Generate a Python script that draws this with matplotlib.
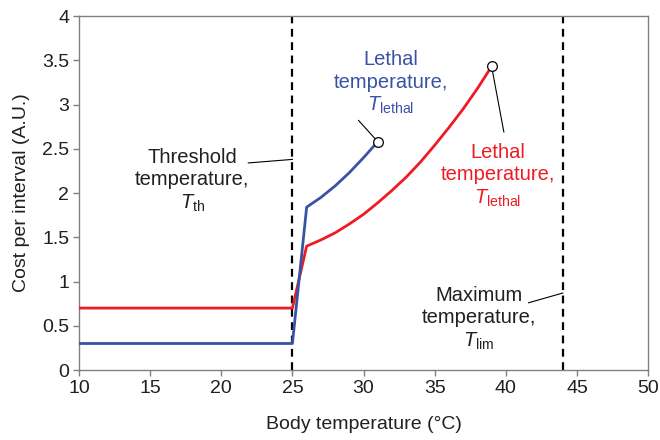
import matplotlib
matplotlib.use("Agg")
import matplotlib.pyplot as plt

plt.rcParams['font.family'] = ['Liberation Sans', 'DejaVu Sans']
plt.rcParams['mathtext.fontset'] = 'custom'
plt.rcParams['mathtext.rm'] = 'Liberation Sans'
plt.rcParams['mathtext.it'] = 'Liberation Sans:italic'

# Cost curves (body temperature in °C, cost in arbitrary units)
blue_temp = [10, 25, 26, 27, 28, 29, 30, 31]
blue_cost = [0.3, 0.3, 1.84, 1.95, 2.08, 2.23, 2.40, 2.58]
red_temp = [10, 25, 26, 27, 28, 29, 30, 31, 32, 33, 34, 35, 36, 37, 38, 39]
red_cost = [0.7, 0.7, 1.40, 1.47, 1.55, 1.65, 1.76, 1.89, 2.03, 2.18,
            2.35, 2.54, 2.74, 2.95, 3.18, 3.43]

threshold_temp = 25
max_temp = 44

x_ticks = [10, 15, 20, 25, 30, 35, 40, 45, 50]
y_ticks = [0, 0.5, 1, 1.5, 2, 2.5, 3, 3.5, 4]
y_tick_labels = ['0', '0.5', '1', '1.5', '2', '2.5', '3', '3.5', '4']

BLUE = '#3953a4'
RED = '#ed1c24'
TXT = '#231f20'
GRAY = '#808080'

fig = plt.figure(figsize=(6.6, 4.4), dpi=100)
ax = fig.add_axes([0.1197, 0.159, 0.8623, 0.8046])

ax.axvline(threshold_temp, color='black', lw=1.6, ls=(0, (3.5, 2.5)), zorder=1)
ax.axvline(max_temp, color='black', lw=1.6, ls=(0, (3.5, 2.5)), zorder=1)

ax.plot(red_temp, red_cost, color=RED, lw=2.0, solid_joinstyle='round', zorder=3)
ax.plot(blue_temp, blue_cost, color=BLUE, lw=2.0, solid_joinstyle='round', zorder=3)

# open circles at the lethal end points
ax.plot(blue_temp[-1], blue_cost[-1], 'o', ms=7, mfc='white', mec='black', mew=0.9, zorder=5)
ax.plot(red_temp[-1], red_cost[-1], 'o', ms=7, mfc='white', mec='black', mew=0.9, zorder=5)

ax.set_xlim(10, 50)
ax.set_ylim(0, 4)
ax.set_xticks(x_ticks)
ax.set_yticks(y_ticks)
ax.set_yticklabels(y_tick_labels)
ax.tick_params(direction='out', length=4, width=1, color=GRAY,
               labelsize=14, labelcolor=TXT, pad=3)
for s in ax.spines.values():
    s.set_color(GRAY)
    s.set_linewidth(1)

ax.set_xlabel('Body temperature (°C)', fontsize=14, color=TXT, labelpad=14)
ax.set_ylabel('Cost per interval (A.U.)', fontsize=14, color=TXT, labelpad=9)

fs = 14.5
ls = 1.22
ax.text(17.96, 2.14, 'Threshold\ntemperature,\n$\\mathit{T}_{\\mathrm{th}}$', ha='center', va='center',
        fontsize=fs, color=TXT, linespacing=ls)
ax.plot([21.9, 25.0], [2.34, 2.38], color='black', lw=0.8, zorder=4)

ax.text(31.9, 3.24, 'Lethal\ntemperature,\n$\\mathit{T}_{\\mathrm{lethal}}$', ha='center', va='center',
        fontsize=fs, color=BLUE, linespacing=ls)
ax.plot([29.65, blue_temp[-1]], [2.82, blue_cost[-1]], color='black', lw=0.8, zorder=4)

ax.text(39.44, 2.19, 'Lethal\ntemperature,\n$\\mathit{T}_{\\mathrm{lethal}}$', ha='center', va='center',
        fontsize=fs, color=RED, linespacing=ls)
ax.plot([red_temp[-1], 39.86], [red_cost[-1], 2.69], color='black', lw=0.8, zorder=4)

ax.text(38.1, 0.58, 'Maximum\ntemperature,\n$\\mathit{T}_{\\mathrm{lim}}$', ha='center', va='center',
        fontsize=fs, color=TXT, linespacing=ls)
ax.plot([41.6, max_temp], [0.76, 0.87], color='black', lw=0.8, zorder=4)

fig.savefig('out.png', dpi=100)
